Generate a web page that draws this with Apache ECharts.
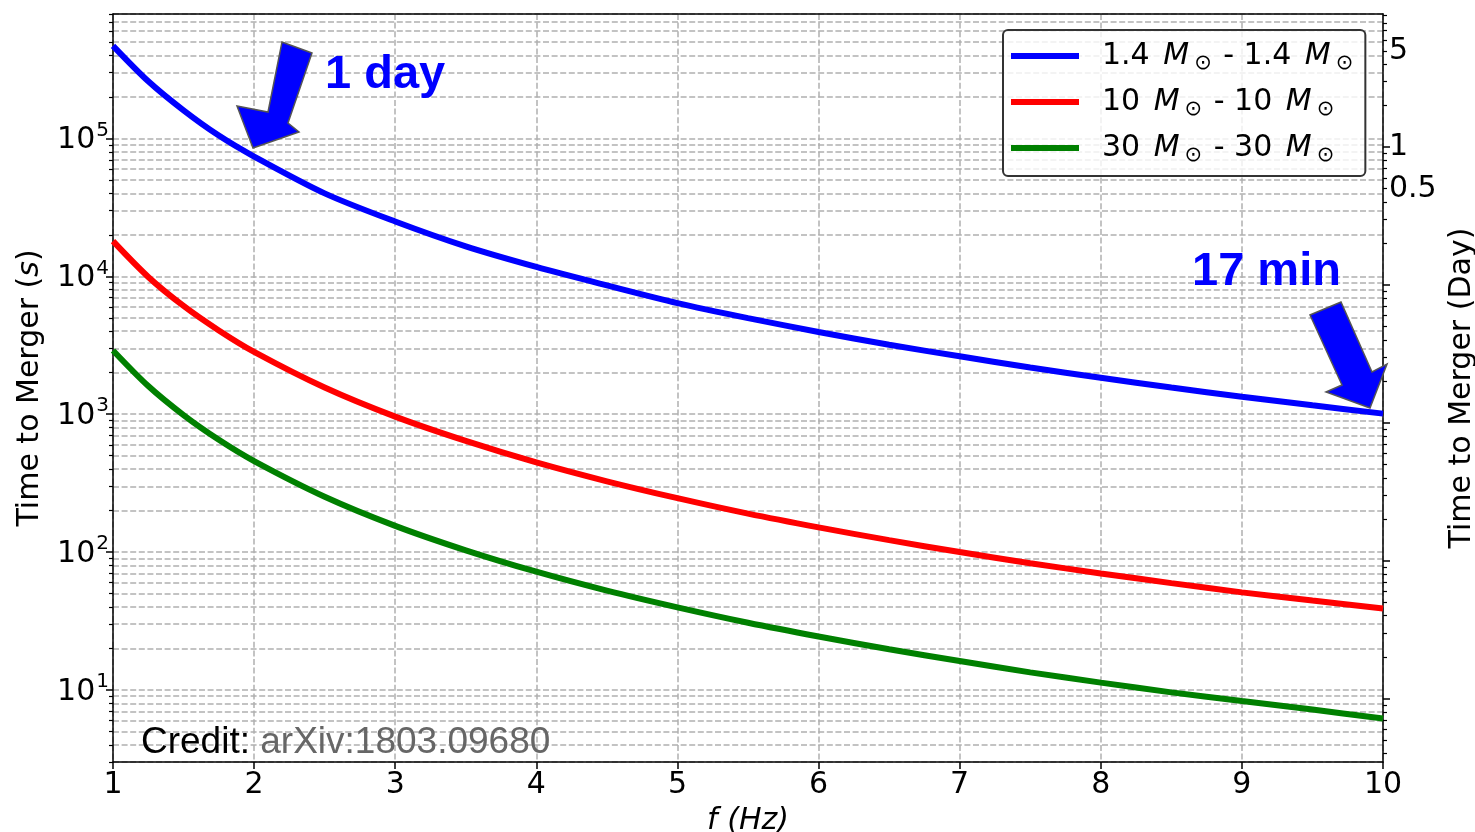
<!DOCTYPE html>
<html><head><meta charset="utf-8">
<script src="https://cdn.jsdelivr.net/npm/echarts@6/dist/echarts.min.js"></script>
<style>html,body{margin:0;padding:0;background:#fff;overflow:hidden}#c{width:1475px;height:832px}</style>
</head><body><div id="c"></div>
<script>
// ---- data ----
const freq = [1, 1.25, 1.5, 1.75, 2, 2.5, 3, 3.5, 4, 4.5, 5, 5.5, 6, 6.5, 7, 7.5, 8, 8.5, 9, 9.5, 10];
const nsns14 = [470000, 260000, 160000, 105000, 74000, 40000, 25000, 16500, 11700, 8600, 6400, 4980, 3950, 3190, 2630, 2180, 1840, 1560, 1340, 1160, 1010];
const bbh10 = [18000, 9900, 6100, 4050, 2830, 1560, 960, 640, 447, 326, 246, 190, 151, 122, 100, 83, 70, 59.5, 51, 44.5, 39];
const bbh30 = [2900, 1600, 985, 652, 457, 252, 155, 103, 72, 52.5, 39.7, 30.7, 24.4, 19.7, 16.2, 13.4, 11.3, 9.6, 8.3, 7.2, 6.2];
const seriesNames = ['1.4 M⊙ - 1.4 M⊙', '10 M⊙ - 10 M⊙', '30 M⊙ - 30 M⊙'];
const massLabels = ['1.4', '10', '30'];
const seriesColors = ['#0000ff', '#ff0000', '#008000'];
const xTicks = [1, 2, 3, 4, 5, 6, 7, 8, 9, 10];
const leftMajorTicks = [10, 100, 1000, 10000, 100000];
const rightLabelDays = [0.5, 1, 5];
const SECONDS_PER_DAY = 86400;
const yMin = 3.0, yMax = 8.0e5;

// tick helpers (axis positions only)
function logMinors(lo, hi) {
  const out = [];
  for (let e = Math.floor(Math.log10(lo)); e <= Math.ceil(Math.log10(hi)); e++) {
    for (let k = 2; k <= 9; k++) {
      const v = k * Math.pow(10, e);
      if (v >= lo && v <= hi) out.push(v);
    }
  }
  return out;
}
function logMajors(lo, hi) {
  const out = [];
  for (let e = Math.floor(Math.log10(lo)); e <= Math.ceil(Math.log10(hi)); e++) {
    const v = Math.pow(10, e);
    if (v >= lo && v <= hi) out.push(v);
  }
  return out;
}
const leftMinor = logMinors(yMin, yMax);
const dMin = yMin / SECONDS_PER_DAY, dMax = yMax / SECONDS_PER_DAY;
const rightMinor = logMinors(dMin, dMax);
const rightMajor = logMajors(dMin, dMax);

const FONT = 'DejaVu Sans';
const gridLine = { show: true, lineStyle: { color: '#b0b0b0', width: 1.5, type: [6, 2.6] } };
const spine = { show: true, lineStyle: { color: '#000', width: 1.5 } };

const chart = echarts.init(document.getElementById('c'), null, { renderer: 'canvas' });

const legendRich = {
  n: { fontFamily: FONT, fontSize: 30, color: '#000', lineHeight: 36 },
  m: { fontFamily: FONT, fontSize: 30, fontStyle: 'italic', color: '#000', lineHeight: 36, padding: [0, 3, 0, 4] },
  s: { fontFamily: FONT, fontSize: 21, color: '#000', lineHeight: 36, verticalAlign: 'bottom', padding: [0, 2, 0, 2] }
};

const option = {
  animation: false,
  backgroundColor: '#fff',
  grid: { left: 113, right: 92, top: 14, bottom: 70, containLabel: false, outerBoundsMode: 'none' },
  xAxis: [{
    type: 'value', min: 1, max: 10, interval: 1, position: 'bottom',
    name: '{i|f} (Hz)', nameLocation: 'middle', nameGap: 44,
    nameTextStyle: { fontFamily: FONT, fontSize: 30, color: '#000', fontStyle: 'italic',
      rich: { i: { fontFamily: FONT, fontSize: 30, fontStyle: 'italic', color: '#000' } } },
    axisLine: spine,
    axisTick: { show: true, inside: false, length: 7, lineStyle: { color: '#000', width: 1.5 } },
    axisLabel: { fontFamily: FONT, fontSize: 30, color: '#000', margin: 8, customValues: xTicks },
    splitLine: gridLine
  }, {
    type: 'value', min: 1, max: 10, position: 'top',
    axisLine: spine, axisTick: { show: false }, axisLabel: { show: false }, splitLine: { show: false }
  }],
  yAxis: [{
    type: 'log', logBase: 10, min: yMin, max: yMax, position: 'left',
    name: 'Time to Merger ({i|s})', nameLocation: 'middle', nameGap: 68,
    nameTextStyle: { fontFamily: FONT, fontSize: 30, color: '#000',
      rich: { i: { fontFamily: FONT, fontSize: 30, fontStyle: 'italic', color: '#000' } } },
    axisLine: spine,
    axisTick: { show: true, length: 7, customValues: leftMajorTicks, lineStyle: { color: '#000', width: 1.5 } },
    axisLabel: {
      customValues: leftMajorTicks, margin: 4,
      formatter: v => '{b|10}{sup|' + Math.round(Math.log10(v)) + '}',
      rich: {
        b: { fontFamily: FONT, fontSize: 30, color: '#000', lineHeight: 36, padding: [4, 0, 0, 0] },
        sup: { fontFamily: FONT, fontSize: 20, color: '#000', lineHeight: 36, verticalAlign: 'top', padding: [0, 0, 0, 1] }
      }
    },
    splitLine: gridLine
  }, {
    type: 'log', logBase: 10, min: yMin, max: yMax, position: 'left',
    axisLine: { show: false },
    axisTick: { show: true, length: 4, customValues: leftMinor, lineStyle: { color: '#000', width: 1.2 } },
    axisLabel: { show: false },
    splitLine: gridLine
  }, {
    type: 'log', logBase: 10, min: dMin, max: dMax, position: 'right',
    name: 'Time to Merger (Day)', nameLocation: 'middle', nameGap: 60,
    nameTextStyle: { fontFamily: FONT, fontSize: 30, color: '#000' },
    axisLine: spine,
    axisTick: { show: true, length: 4, customValues: rightMinor, lineStyle: { color: '#000', width: 1.2 } },
    axisLabel: {
      customValues: rightLabelDays, margin: 6, fontFamily: FONT, fontSize: 30, color: '#000',
      padding: [4, 0, 0, 0],
      formatter: v => String(+(+v).toPrecision(3))
    },
    splitLine: { show: false }
  }, {
    type: 'log', logBase: 10, min: dMin, max: dMax, position: 'right',
    axisLine: { show: false },
    axisTick: { show: true, length: 7, customValues: rightMajor, lineStyle: { color: '#000', width: 1.5 } },
    axisLabel: { show: false },
    splitLine: { show: false }
  }],
  legend: {
    orient: 'vertical', left: 1003, top: 30,
    padding: [8, 10, 10, 8], itemWidth: 68, itemHeight: 6, itemGap: 10,
    icon: 'rect',
    data: seriesNames,
    backgroundColor: 'rgba(255,255,255,0.8)', borderColor: '#333', borderWidth: 2, borderRadius: 5,
    textStyle: { padding: [0, 0, 0, 18], lineHeight: 36, rich: legendRich },
    formatter: name => {
      const m = massLabels[seriesNames.indexOf(name)];
      return '{n|' + m + ' }{m|M}{s|⊙}{n| - ' + m + ' }{m|M}{s|⊙}';
    }
  },
  series: [
    { name: seriesNames[0], data: freq.map((f, i) => [f, nsns14[i]]) },
    { name: seriesNames[1], data: freq.map((f, i) => [f, bbh10[i]]) },
    { name: seriesNames[2], data: freq.map((f, i) => [f, bbh30[i]]) }
  ].map((s, i) => Object.assign(s, {
    type: 'line', xAxisIndex: 0, yAxisIndex: 0, smooth: 0.3, showSymbol: false, symbol: 'none',
    lineStyle: { color: seriesColors[i], width: 6 }, itemStyle: { color: seriesColors[i] }, z: 3
  })),
  graphic: [
    { type: 'polygon', z: 100,
      shape: { points: [[253, 148], [237, 106], [268, 112], [282, 42], [312, 53], [288, 123], [299, 132]] },
      style: { fill: '#0000ff', stroke: '#555', lineWidth: 1.5 } },
    { type: 'polygon', z: 100,
      shape: { points: [[1370, 408], [1326, 392], [1342, 385], [1310, 315], [1341, 302], [1372, 372], [1387, 364]] },
      style: { fill: '#0000ff', stroke: '#555', lineWidth: 1.5 } },
    { type: 'text', z: 100, left: 325, top: 52,
      style: { text: '1 day', fill: '#0000ff', font: 'bold 47px "Liberation Sans", Arial, sans-serif' } },
    { type: 'text', z: 100, left: 1192, top: 249,
      style: { text: '17 min', fill: '#0000ff', font: 'bold 47px "Liberation Sans", Arial, sans-serif' } },
    { type: 'text', z: 100, left: 141, top: 724,
      style: { text: '{a|Credit: }{b|arXiv:1803.09680}',
        rich: { a: { fill: '#000', fontFamily: '"Liberation Sans", Arial', fontSize: 37 },
                b: { fill: '#666', fontFamily: '"Liberation Sans", Arial', fontSize: 37 } } } }
  ]
};
chart.setOption(option);
</script>
</body></html>
